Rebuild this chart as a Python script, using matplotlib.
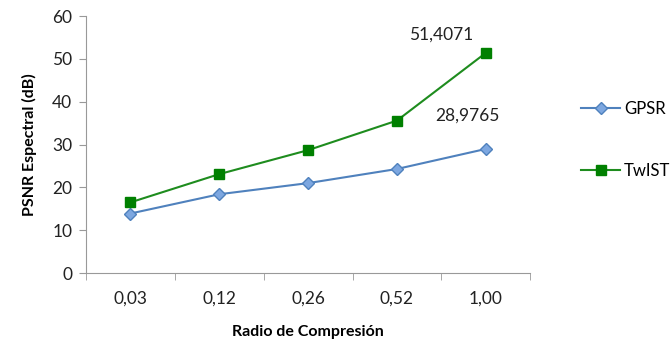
import matplotlib
matplotlib.use("Agg")
import matplotlib.pyplot as plt
import numpy as np

plt.rcParams['font.family'] = ['Lato', 'DejaVu Sans']

categories = ["0,03", "0,12", "0,26", "0,52", "1,00"]
gpsr = [13.9, 18.4, 21.0, 24.3, 28.9765]
twist = [16.5, 23.1, 28.7, 35.6, 51.4071]

fig = plt.figure(figsize=(6.72, 3.43), dpi=100)
ax = fig.add_axes([0.128, 0.204, 0.661, 0.749])
x = np.arange(len(categories))

ax.plot(x, gpsr, color="#4F81BD", marker="D", markersize=6, lw=1.5,
        markerfacecolor="#7DA7E0", markeredgecolor="#4F81BD", label="GPSR")
ax.plot(x, twist, color="#1E8C1E", marker="s", markersize=7.5, lw=1.5,
        markerfacecolor="#008000", markeredgecolor="#008000", label="TwIST")

ax.annotate("51,4071", (x[-1], twist[-1]), xytext=(-32, 13), textcoords="offset points",
            ha="center", va="center", fontsize=12.5, color="#222222")
ax.annotate("28,9765", (x[-1], gpsr[-1]), xytext=(-13, 24), textcoords="offset points",
            ha="center", va="center", fontsize=12.5, color="#222222")

ax.set_xlim(-0.5, 4.5)
ax.set_ylim(0, 60)
ax.set_yticks(range(0, 61, 10))
ax.set_xticks(x)
ax.set_xticklabels(categories)
ax.set_xticks(np.arange(-0.5, 4.6, 1), minor=True)
ax.tick_params(axis="x", which="major", length=0, pad=13, labelsize=12.5, labelcolor="#222222")
ax.tick_params(axis="x", which="minor", length=5, color="#999999", direction="out")
ax.tick_params(axis="y", length=5, color="#999999", labelsize=12.5, labelcolor="#222222", pad=5)

for s in ["top", "right"]:
    ax.spines[s].set_visible(False)
for s in ["left", "bottom"]:
    ax.spines[s].set_color("#999999")

ax.set_xlabel("Radio de Compresión", fontweight="bold", fontsize=11.5, labelpad=13)
ax.set_ylabel("PSNR Espectral (dB)", fontweight="bold", fontsize=11.5, labelpad=11)

leg = fig.legend(loc="upper left", bbox_to_anchor=(0.843, 0.75), frameon=False,
                 fontsize=12, labelspacing=2.75, handlelength=2.3, handletextpad=0.25)

fig.savefig("out.png", dpi=100)
